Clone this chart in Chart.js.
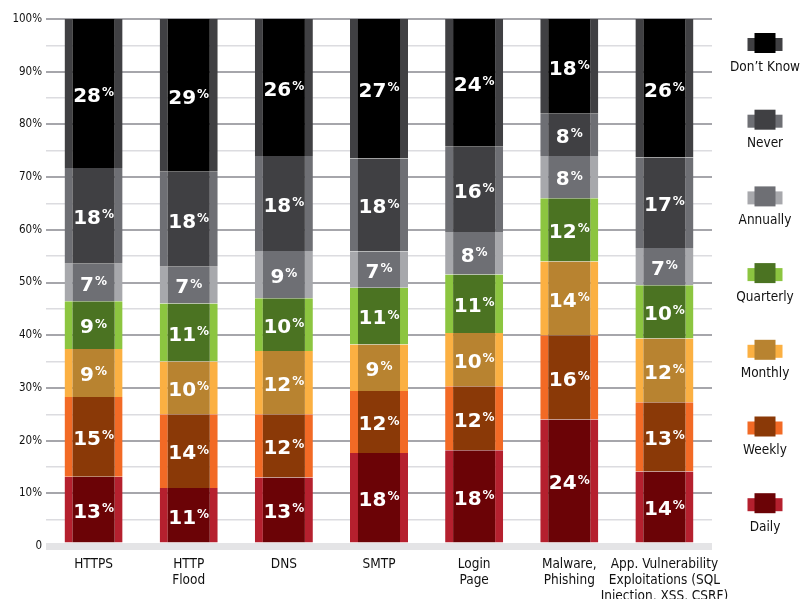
<!DOCTYPE html>
<html>
<head>
<meta charset="utf-8">
<script src="https://cdn.jsdelivr.net/npm/chart.js@4/dist/chart.umd.min.js"></script>
<style>
  html, body { margin: 0; padding: 0; background: #fff; }
  canvas { display: block; }
</style>
</head>
<body>
<canvas id="freqChart" width="812" height="599"></canvas>
<script>
const categories = [
  'HTTPS',
  ['HTTP', 'Flood'],
  'DNS',
  'SMTP',
  ['Login', 'Page'],
  ['Malware,', 'Phishing'],
  ['App. Vulnerability', 'Exploitations (SQL', 'Injection, XSS, CSRF)']
];

// bottom of the stack first
const daily     = [13, 11, 13, 18, 18, 24, 14];
const weekly    = [15, 14, 12, 12, 12, 16, 13];
const monthly   = [9, 10, 12, 9, 10, 14, 12];
const quarterly = [9, 11, 10, 11, 11, 12, 10];
const annually  = [7, 7, 9, 7, 8, 8, 7];
const never     = [18, 18, 18, 18, 16, 8, 17];
const dontKnow  = [28, 29, 26, 27, 24, 18, 26];

const yTicks = [0, 10, 20, 30, 40, 50, 60, 70, 80, 90, 100];

const seriesNames = ['Daily', 'Weekly', 'Monthly', 'Quarterly', 'Annually', 'Never', "Don\u2019t Know"];
const seriesValues = [daily, weekly, monthly, quarterly, annually, never, dontKnow];
// [inner fill, outer edge]
const seriesColors = [
  ['#6b0306', '#b5202e'],
  ['#8a3907', '#f26a25'],
  ['#b88330', '#fbb042'],
  ['#4b7322', '#8cc540'],
  ['#6e6f74', '#a7a8ac'],
  ['#404043', '#6e6f74'],
  ['#000000', '#404043']
];

// each column is shown as a share of its own total
const totals = categories.map((c, i) => seriesValues.reduce((s, arr) => s + arr[i], 0));

const datasets = seriesNames.map((name, k) => ({
  label: name,
  raw: seriesValues[k],
  data: seriesValues[k].map((v, i) => v / totals[i] * 100),
  backgroundColor: seriesColors[k][0],
  borderColor: seriesColors[k][1],
  borderWidth: { left: 8, right: 8, top: 0, bottom: 0 },
  borderSkipped: false,
  barPercentage: 0.61,
  categoryPercentage: 1
}));

const narrow = "'DejaVu Sans Condensed', 'Liberation Sans', sans-serif";
const heavy = "'DejaVu Sans', sans-serif";

const valueLabels = {
  id: 'valueLabels',
  afterDatasetsDraw(chart) {
    const ctx = chart.ctx;
    ctx.save();
    ctx.fillStyle = '#ffffff';
    ctx.textBaseline = 'alphabetic';
    ctx.textAlign = 'left';
    chart.data.datasets.forEach((ds, k) => {
      const meta = chart.getDatasetMeta(k);
      meta.data.forEach((bar, i) => {
        const num = String(ds.raw[i]);
        const cy = (bar.y + bar.base) / 2 + 1;
        ctx.font = 'bold 20px ' + heavy;
        const wn = ctx.measureText(num).width;
        ctx.font = 'bold 12px ' + heavy;
        const wp = ctx.measureText('%').width;
        const x0 = bar.x - (wn + wp + 1) / 2;
        ctx.font = 'bold 20px ' + heavy;
        ctx.fillText(num, x0, cy + 7.3);
        ctx.font = 'bold 12px ' + heavy;
        ctx.fillText('%', x0 + wn + 1, cy + 1.5);
      });
    });
    ctx.restore();
  }
};

const sideLegend = {
  id: 'sideLegend',
  afterDraw(chart) {
    const ctx = chart.ctx;
    const cx = 765;
    ctx.save();
    ctx.textAlign = 'center';
    ctx.textBaseline = 'middle';
    ctx.font = '13.5px ' + narrow;
    const n = chart.data.datasets.length;
    chart.data.datasets.forEach((ds, k) => {
      const row = n - 1 - k;
      const ty = 67 + row * 76.7;
      ctx.fillStyle = ds.borderColor;
      ctx.fillRect(cx - 17.5, ty - 29, 35, 13);
      ctx.fillStyle = ds.backgroundColor;
      ctx.fillRect(cx - 10.5, ty - 34, 21, 20);
      ctx.fillStyle = '#111111';
      ctx.fillText(ds.label, cx, ty);
    });
    ctx.restore();
  }
};

new Chart(document.getElementById('freqChart'), {
  type: 'bar',
  data: { labels: categories, datasets: datasets },
  options: {
    responsive: false,
    animation: false,
    devicePixelRatio: 1,
    layout: { padding: { top: 19, right: 100, left: 0, bottom: 0 } },
    plugins: {
      legend: { display: false },
      tooltip: { enabled: false }
    },
    scales: {
      x: {
        stacked: true,
        grid: { display: false },
        border: { display: false },
        ticks: {
          autoSkip: false,
          maxRotation: 0,
          minRotation: 0,
          padding: 3,
          color: '#111111',
          font: { family: narrow, size: 13.5, lineHeight: 1.18 }
        },
        afterFit(scale) { scale.height = 53; }
      },
      y: {
        stacked: true,
        min: 0,
        max: 100,
        border: { display: false },
        grid: {
          drawTicks: false,
          color(c) {
            const v = c.tick.value;
            if (v === 0) return '#e4e4e6';
            return v % 10 === 0 ? '#a6a6ab' : '#dcdce0';
          },
          lineWidth(c) {
            const v = c.tick.value;
            if (v === 0) return 7;
            return v % 10 === 0 ? 2 : 1.5;
          }
        },
        ticks: {
          stepSize: 5,
          padding: 4,
          color: '#111111',
          font: { family: narrow, size: 11.5 },
          callback(v) {
            if (!yTicks.includes(v)) return '';
            return v === 0 ? '0' : v + '%';
          }
        },
        afterFit(scale) { scale.width = 46; }
      }
    }
  },
  plugins: [valueLabels, sideLegend]
});
</script>
</body>
</html>
